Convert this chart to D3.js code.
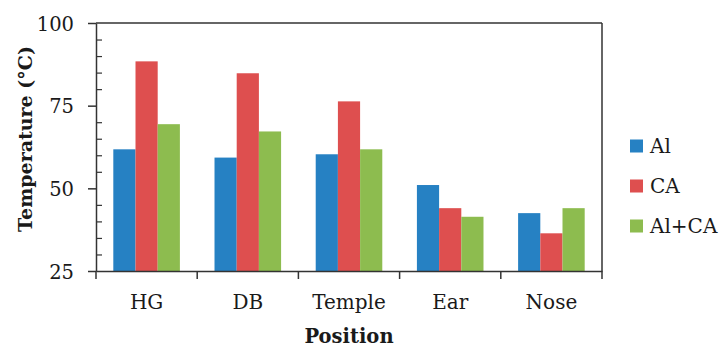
<!DOCTYPE html>
<html>
<head>
<meta charset="utf-8">
<script src="https://cdn.jsdelivr.net/npm/d3@7"></script>
<style>
html,body{margin:0;padding:0;background:#fff;}
svg{display:block;}
text{font-family:"DejaVu Serif","Liberation Serif",serif;fill:#1a1a1a;}
</style>
</head>
<body>
<svg id="chart" width="719" height="350"></svg>
<script>
const categories = ["HG", "DB", "Temple", "Ear", "Nose"];
const seriesNames = ["Al", "CA", "Al+CA"];
const alValues = [61.8, 59.3, 60.3, 51.0, 42.5];
const caValues = [88.4, 84.8, 76.3, 44.0, 36.4];
const alcaValues = [69.4, 67.2, 61.8, 41.4, 44.0];
const yTicks = [25, 50, 75, 100];
const colors = ["#2681C3", "#DE4F4F", "#8DBC4F"];

const seriesValues = [alValues, caValues, alcaValues];
const svg = d3.select("#chart");
const margin = {left: 96, top: 23, right: 117, bottom: 79};
const W = 719, H = 350;
const x0 = margin.left, x1 = W - margin.right, y0 = H - margin.bottom, y1 = margin.top;

const x = d3.scaleBand().domain(categories).range([x0, x1]).paddingInner(0).paddingOuter(0);
const xs = d3.scaleBand().domain(seriesNames).range([0, x.bandwidth()]).paddingOuter(0.78).paddingInner(0);
const y = d3.scaleLinear().domain([25, 100]).range([y0, y1]);

// bars
seriesNames.forEach((s, si) => {
  svg.append("g").selectAll("rect").data(categories).join("rect")
    .attr("x", c => x(c) + xs(s))
    .attr("width", xs.bandwidth())
    .attr("y", (c, i) => y(seriesValues[si][i]))
    .attr("height", (c, i) => y0 - y(seriesValues[si][i]))
    .attr("fill", colors[si]);
});

const axisColor = "#333";
// minor ticks (inward)
const minor = d3.range(30, 100, 5).filter(v => v % 25 !== 0);
svg.append("g").attr("transform", `translate(${x0},0)`)
  .call(d3.axisRight(y).tickValues(minor).tickSize(6).tickFormat(""))
  .call(g => g.select(".domain").remove())
  .call(g => g.selectAll("line").attr("stroke", axisColor).attr("stroke-width", 1.2));

// y axis major
svg.append("g").attr("transform", `translate(${x0},0)`)
  .call(d3.axisLeft(y).tickValues(yTicks).tickSize(8).tickSizeOuter(0).tickPadding(14))
  .call(g => g.select(".domain").attr("stroke", axisColor).attr("stroke-width", 1.5))
  .call(g => g.selectAll("line").attr("stroke", axisColor).attr("stroke-width", 1.5))
  .call(g => g.selectAll("text").attr("font-size", 19.5).attr("fill", "#1a1a1a").attr("dy", "0.36em"));

// x axis
svg.append("g").attr("transform", `translate(0,${y0})`)
  .call(d3.axisBottom(x).tickSize(0).tickPadding(24))
  .call(g => g.select(".domain").attr("stroke", axisColor).attr("stroke-width", 1.5))
  .call(g => g.selectAll("text").attr("font-size", 20).attr("fill", "#1a1a1a"));
// category boundary ticks
const bounds = categories.map(c => x(c)).concat([x1]);
svg.append("g").selectAll("line").data(bounds).join("line")
  .attr("x1", d => d).attr("x2", d => d).attr("y1", y0).attr("y2", y0 + 8)
  .attr("stroke", axisColor).attr("stroke-width", 1.5);

// frame top & right
svg.append("line").attr("x1", x0).attr("x2", x1).attr("y1", y1).attr("y2", y1).attr("stroke", axisColor).attr("stroke-width", 1.5);
svg.append("line").attr("x1", x1).attr("x2", x1).attr("y1", y1).attr("y2", y0).attr("stroke", axisColor).attr("stroke-width", 1.5);

// axis titles
svg.append("text").attr("x", (x0 + x1) / 2).attr("y", 343).attr("text-anchor", "middle")
  .attr("font-size", 19.5).attr("font-weight", "bold").text("Position");
svg.append("text").attr("transform", "translate(32,139) rotate(-90)").attr("text-anchor", "middle")
  .attr("font-size", 19).attr("font-weight", "bold").text("Temperature (°C)");

// legend
const lg = svg.append("g");
seriesNames.forEach((s, i) => {
  const cy = 146 + i * 40;
  lg.append("rect").attr("x", 630).attr("y", cy - 6.5).attr("width", 13).attr("height", 13).attr("fill", colors[i]);
  lg.append("text").attr("x", 650).attr("y", cy).attr("dy", "0.36em").attr("font-size", 20).text(s);
});
</script>
</body>
</html>
